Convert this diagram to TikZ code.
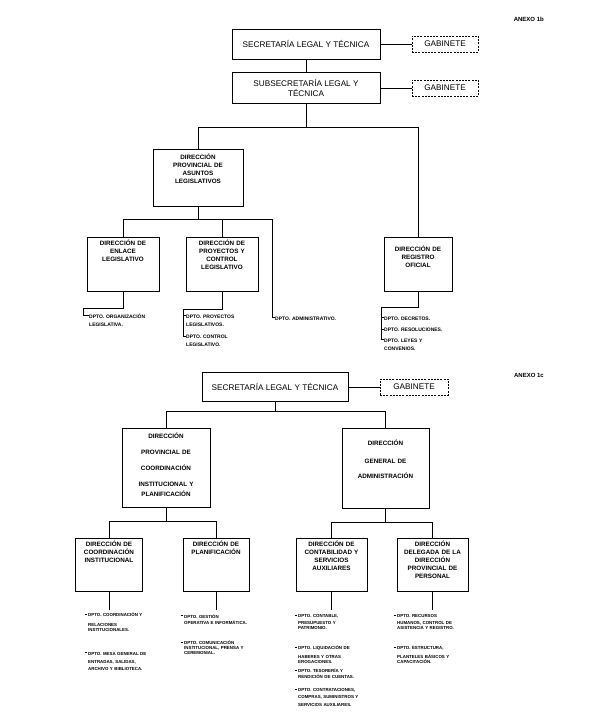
\documentclass[tikz,border=0pt]{standalone}
\usepackage{fontspec}
\setmainfont{Liberation Sans}

\tikzset{
  orgbox/.style={draw, line width=0.7pt, align=center, inner sep=1pt,
    font=\fontsize{8.2}{10}\selectfont},
  gabbox/.style={draw, dash pattern=on 2pt off 1.2pt, line width=0.6pt,
    minimum width=66pt, minimum height=16pt, inner sep=0pt,
    font=\fontsize{8.2}{10}\selectfont},
  dirbox/.style={draw, line width=0.7pt, inner sep=0pt},
  dirtxt/.style={anchor=base, align=center, text width=86pt, inner sep=0pt,
    font=\fontsize{6.3}{8}\selectfont\bfseries},
  dpto/.style={anchor=base west, align=left, text width=95pt, inner sep=0pt,
    font=\fontsize{5}{8}\selectfont\bfseries},
  dptosm/.style={dpto, font=\fontsize{4.4}{4.8}\selectfont\bfseries},
  link/.style={line width=0.9pt},
  bar/.style={line width=1.5pt},
  tick/.style={line width=0.5pt},
  anexo/.style={anchor=east, inner sep=0pt, font=\fontsize{6}{7}\selectfont\bfseries}
}

\begin{document}
\begin{tikzpicture}[x=1pt, y=-1pt]
\useasboundingbox (0,0) rectangle (589,718);

% ---------------- Anexo 1b ----------------
\node[anexo] (anexo-b) at (544,19) {ANEXO 1b};

\node[orgbox, minimum width=148pt, minimum height=30pt] (slt) at (306,44) {SECRETARÍA LEGAL Y TÉCNICA};
\node[gabbox] (gab-slt) at (445,44) {GABINETE};
\node[orgbox, minimum width=148pt, minimum height=31pt] (sslt) at (306,88) {SUBSECRETARÍA LEGAL Y\\TÉCNICA};
\node[gabbox] (gab-sslt) at (445,88) {GABINETE};

\draw[link] (slt) -- (gab-slt);
\draw[link] (slt) -- (sslt);
\draw[link] (sslt) -- (gab-sslt);

% Direcciones
\node[dirbox, minimum width=90pt, minimum height=57pt] (dpal) at (198,177.5) {};
\node[dirtxt] (dpal-t) at ([yshift=-11pt]dpal.north) {DIRECCIÓN\\PROVINCIAL DE\\ASUNTOS\\LEGISLATIVOS};

\node[dirbox, minimum width=72pt, minimum height=54pt] (enl) at (123,264) {};
\node[dirtxt] (enl-t) at ([yshift=-9pt]enl.north) {DIRECCIÓN DE\\ENLACE\\LEGISLATIVO};

\node[dirbox, minimum width=72pt, minimum height=54pt] (proy) at (222,264) {};
\node[dirtxt] (proy-t) at ([yshift=-9pt]proy.north) {DIRECCIÓN DE\\PROYECTOS Y\\CONTROL\\LEGISLATIVO};

\node[dirbox, minimum width=68pt, minimum height=54pt] (reg) at (418,264) {};
\node[dirtxt] (reg-t) at ([yshift=-15pt]reg.north) {DIRECCIÓN DE\\REGISTRO\\OFICIAL};

% Departamentos
\node[dpto] (org-leg) at (89,318) {DPTO. ORGANIZACIÓN\\LEGISLATIVA.};
\node[dpto] (proy-leg) at (186,318) {DPTO. PROYECTOS\\LEGISLATIVOS.};
\node[dpto] (ctrl-leg) at (186,338.5) {DPTO. CONTROL\\LEGISLATIVO.};
\node[dpto] (adm) at (275,320) {DPTO. ADMINISTRATIVO.};
\node[dpto] (dec) at (384,320) {DPTO. DECRETOS.};
\node[dpto] (res) at (384,331.5) {DPTO. RESOLUCIONES.};
\node[dpto] (ley) at (384,342) {DPTO. LEYES Y\\CONVENIOS.};

% Connectors
\draw[link] (sslt.south) -- ++(0,24) coordinate (bar-a);
\draw[link] (dpal.north) |- (bar-a) -| (reg.north);

\draw[link] (dpal.south) -- ++(0,13) coordinate (bar-b);
\coordinate (adm-tick) at ([xshift=-3pt,yshift=2.5pt]adm.base west);
\draw[link] (enl.north) -- (enl.north |- bar-b);
\draw[link] (proy.north) -- (proy.north |- bar-b);
\draw[link] (adm-tick |- bar-b) -- (adm-tick) -- (adm.base west |- adm-tick);
\draw[bar] (enl.north |- bar-b) -- (adm-tick |- bar-b);

\draw[link] (enl.south) -- ++(0,17) -| ([xshift=-6pt,yshift=2.5pt]org-leg.base west) -- ([yshift=2.5pt]org-leg.base west);
\draw[link] (proy.south) -- ++(0,18) -| ([xshift=-3pt,yshift=2.5pt]ctrl-leg.base west) -- ([yshift=2.5pt]ctrl-leg.base west);
\draw[tick] ([xshift=-3pt,yshift=2.5pt]proy-leg.base west) -- ([yshift=2.5pt]proy-leg.base west);
\draw[link] (reg.south) -- ++(0,16) -| ([xshift=-3pt,yshift=2.5pt]ley.base west) -- ([yshift=2.5pt]ley.base west);
\draw[tick] ([xshift=-3pt,yshift=2.5pt]dec.base west) -- ([yshift=2.5pt]dec.base west);
\draw[tick] ([xshift=-3pt,yshift=2.5pt]res.base west) -- ([yshift=2.5pt]res.base west);

% ---------------- Anexo 1c ----------------
\node[anexo] (anexo-c) at (544,375) {ANEXO 1c};

\node[orgbox, minimum width=146pt, minimum height=29pt] (slt-c) at (275,387) {SECRETARÍA LEGAL Y TÉCNICA};
\node[gabbox, minimum width=68pt] (gab-c) at (414,387) {GABINETE};
\draw[link] (slt-c) -- (gab-c);

\node[dirbox, minimum width=88pt, minimum height=79pt] (pc) at (166,467.5) {};
\node[dirtxt] (pc-t) at ([yshift=-11pt]pc.north) {DIRECCIÓN\\[8pt]PROVINCIAL DE\\[8pt]COORDINACIÓN\\[8pt]INSTITUCIONAL Y\\[2pt]PLANIFICACIÓN};

\node[dirbox, minimum width=87pt, minimum height=80pt] (ga) at (385.5,468) {};
\node[dirtxt] (ga-t) at ([yshift=-18pt]ga.north) {DIRECCIÓN\\[10pt]GENERAL DE\\[7pt]ADMINISTRACIÓN};

\node[dirbox, minimum width=67pt, minimum height=53pt] (ci) at (109,564.5) {};
\node[dirtxt] (ci-t) at ([yshift=-9pt]ci.north) {DIRECCIÓN DE\\COORDINACIÓN\\INSTITUCIONAL};

\node[dirbox, minimum width=66pt, minimum height=53pt] (pl) at (216,564.5) {};
\node[dirtxt] (pl-t) at ([yshift=-9pt]pl.north) {DIRECCIÓN DE\\PLANIFICACIÓN};

\node[dirbox, minimum width=71pt, minimum height=53pt] (cs) at (331.5,564.5) {};
\node[dirtxt] (cs-t) at ([yshift=-9pt]cs.north) {DIRECCIÓN DE\\CONTABILIDAD Y\\SERVICIOS\\AUXILIARES};

\node[dirbox, minimum width=71pt, minimum height=53pt] (dl) at (432.5,564.5) {};
\node[dirtxt] (dl-t) at ([yshift=-9pt]dl.north) {DIRECCIÓN\\DELEGADA DE LA\\DIRECCIÓN\\PROVINCIAL DE\\PERSONAL};

\draw[link] (slt-c.south) -- ++(0,10) coordinate (bar-c);
\draw[link] (pc.north) |- (bar-c) -| (ga.north);
\draw[link] (pc.south) -- ++(0,14) coordinate (bar-d);
\draw[link] (ci.north) |- (bar-d) -| (pl.north);
\draw[link] (ga.south) -- ++(0,14) coordinate (bar-e);
\draw[link] (cs.north) |- (bar-e) -| (dl.north);

\draw[link] (ci.south) -- ++(0,19);
\draw[link] (pl.south) -- ++(0,19);
\draw[link] (cs.south) -- ++(0,19);
\draw[link] (dl.south) -- ++(0,19);

% Departamentos
\node[dptosm] (ci-a) at (88,616.6) {DPTO. COORDINACIÓN Y\\[5.2pt]RELACIONES\\INSTITUCIONALES.};
\node[dptosm] (ci-b) at (88,655) {DPTO. MESA GENERAL DE\\[3.6pt]ENTRADAS, SALIDAS,\\[2.5pt]ARCHIVO Y BIBLIOTECA.};
\node[dptosm] (pl-a) at (184,618) {DPTO. GESTIÓN\\[1.5pt]OPERATIVA E INFORMÁTICA.};
\node[dptosm] (pl-b) at (184,644.6) {DPTO. COMUNICACIÓN\\INSTITUCIONAL, PRENSA Y\\CEREMONIAL.};
\node[dptosm] (cs-a) at (298,617.6) {DPTO. CONTABLE,\\[2.2pt]PRESUPUESTO Y\\PATRIMONIO.};
\node[dptosm] (cs-b) at (298,649.6) {DPTO. LIQUIDACIÓN DE\\[4.2pt]HABERES Y OTRAS\\EROGACIONES.};
\node[dptosm] (cs-c) at (298,672.6) {DPTO. TESORERÍA Y\\[1.2pt]RENDICIÓN DE CUENTAS.};
\node[dptosm] (cs-d) at (298,691.6) {DPTO. CONTRATACIONES,\\[2.2pt]COMPRAS, SUMINISTROS Y\\[3.2pt]SERVICIOS AUXILIARES.};
\node[dptosm] (dl-a) at (397,617.6) {DPTO. RECURSOS\\[2.2pt]HUMANOS, CONTROL DE\\ASISTENCIA Y REGISTRO.};
\node[dptosm] (dl-b) at (397,649.6) {DPTO. ESTRUCTURA,\\[4.2pt]PLANTELES BÁSICOS Y\\CAPACITACIÓN.};

\draw[tick] ([xshift=-3.5pt,yshift=2.8pt]ci-a.base west) -- ++(2.2pt,0);
\draw[tick] ([xshift=-3.5pt,yshift=2.8pt]ci-b.base west) -- ++(2.2pt,0);
\draw[tick] ([xshift=-3.5pt,yshift=2.8pt]pl-a.base west) -- ++(2.2pt,0);
\draw[tick] ([xshift=-3.5pt,yshift=2.8pt]pl-b.base west) -- ++(2.2pt,0);
\draw[tick] ([xshift=-3.5pt,yshift=2.8pt]cs-a.base west) -- ++(2.2pt,0);
\draw[tick] ([xshift=-3.5pt,yshift=2.8pt]cs-b.base west) -- ++(2.2pt,0);
\draw[tick] ([xshift=-3.5pt,yshift=2.8pt]cs-c.base west) -- ++(2.2pt,0);
\draw[tick] ([xshift=-3.5pt,yshift=2.8pt]cs-d.base west) -- ++(2.2pt,0);
\draw[tick] ([xshift=-3.5pt,yshift=2.8pt]dl-a.base west) -- ++(2.2pt,0);
\draw[tick] ([xshift=-3.5pt,yshift=2.8pt]dl-b.base west) -- ++(2.2pt,0);

\end{tikzpicture}
\end{document}
